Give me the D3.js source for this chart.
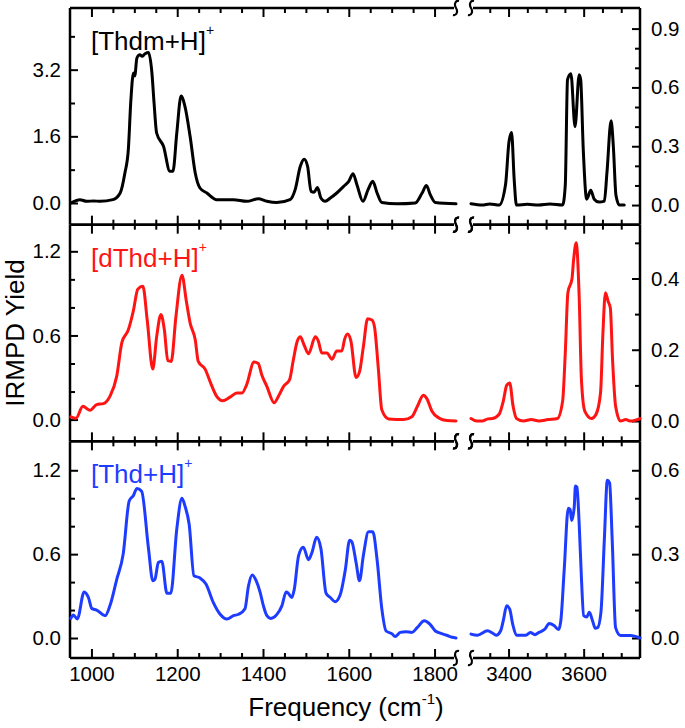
<!DOCTYPE html>
<html><head><meta charset="utf-8">
<script src="https://cdn.jsdelivr.net/npm/d3@7/dist/d3.min.js"></script>
<style>
body{margin:0;background:#fff}
text{font-family:"Liberation Sans",Arial,Helvetica,sans-serif;fill:#000}
</style>
</head><body>
<svg id="chart" width="685" height="728"></svg>
<script>
// ---------- data ----------
const xLowDomain = [950, 1850];
const xHighDomain = [3300, 3750];
const xLowMajor = [1000, 1200, 1400, 1600, 1800];
const xLowMinor = [1050, 1100, 1150, 1250, 1300, 1350, 1450, 1500, 1550, 1650, 1700, 1750];
const xHighMajor = [3400, 3600];
const xHighMinor = [3350, 3450, 3500, 3550, 3650, 3700];

const panelLabels = ["[Thdm+H]", "[dThd+H]", "[Thd+H]"];
const panelColors = ["#000000", "#ff1414", "#1e3cff"];

const leftDomains  = [[-0.52, 4.68], [-0.155, 1.39], [-0.143, 1.407]];
const rightDomains = [[-0.1, 1.005], [-0.057, 0.551], [-0.0715, 0.7035]];
const leftMajor  = [[0, 1.6, 3.2], [0, 0.6, 1.2], [0, 0.6, 1.2]];
const leftMinor  = [[0.8, 2.4, 4.0], [0.2, 0.4, 0.8, 1.0], [0.2, 0.4, 0.8, 1.0]];
const rightMajor = [[0, 0.3, 0.6, 0.9], [0, 0.2, 0.4], [0, 0.3, 0.6]];
const rightMinor = [[0.1, 0.2, 0.4, 0.5, 0.7, 0.8], [0.1, 0.3, 0.5], [0.1, 0.2, 0.4, 0.5]];

const thdmLow = [[954,0.01],[973,0.08],[989,0.04],[1005,0.05],[1020,0.04],[1050,0.08],[1067,0.24],[1078,0.72],[1086,1.28],[1092,2.48],[1098,3.12],[1101,3.05],[1106,3.48],[1113,3.56],[1118,3.52],[1125,3.58],[1133,3.61],[1141,3.12],[1146,2.40],[1152,1.68],[1168,1.36],[1183,0.76],[1190,0.76],[1199,1.68],[1209,2.57],[1218,2.32],[1230,1.6],[1242,0.72],[1253,0.36],[1269,0.24],[1292,0.08],[1331,0.08],[1362,0.04],[1389,0.1],[1409,0.04],[1432,0.01],[1463,0.08],[1475,0.32],[1487,0.88],[1496,1.05],[1504,0.88],[1512,0.28],[1519,0.26],[1527,0.37],[1535,0.12],[1545,0.04],[1557,0.12],[1572,0.24],[1588,0.4],[1600,0.52],[1610,0.70],[1619,0.44],[1633,0.04],[1645,0.32],[1656,0.52],[1666,0.24],[1677,0.01],[1712,-0.02],[1755,0.0],[1771,0.24],[1781,0.42],[1790,0.2],[1802,0.01],[1850,-0.02]];
const thdmHigh = [[3300,0.007],[3330,0.0],[3350,0.006],[3375,0.0],[3392,0.105],[3401,0.32],[3408,0.37],[3415,0.13],[3421,0.0],[3450,0.004],[3480,0.0],[3510,0.005],[3544,0.0],[3551,0.1],[3557,0.64],[3566,0.67],[3577,0.40],[3588,0.665],[3592,0.64],[3599,0.28],[3608,0.03],[3619,0.075],[3628,0.03],[3641,0.015],[3655,0.02],[3662,0.165],[3673,0.43],[3679,0.3],[3686,0.05],[3695,0.0],[3708,0.0]];

const dthdLow = [[952,0.02],[964,0.01],[980,0.095],[997,0.066],[1012,0.107],[1028,0.114],[1043,0.166],[1059,0.31],[1071,0.55],[1086,0.64],[1098,0.78],[1108,0.93],[1120,0.95],[1130,0.71],[1143,0.36],[1152,0.59],[1162,0.75],[1170,0.64],[1178,0.42],[1186,0.415],[1197,0.735],[1211,1.03],[1221,0.85],[1230,0.69],[1242,0.57],[1249,0.415],[1265,0.36],[1278,0.26],[1292,0.166],[1306,0.135],[1323,0.16],[1339,0.19],[1351,0.19],[1362,0.25],[1379,0.41],[1389,0.40],[1397,0.32],[1409,0.237],[1426,0.12],[1436,0.166],[1448,0.237],[1462,0.285],[1471,0.43],[1479,0.55],[1487,0.59],[1496,0.53],[1506,0.47],[1522,0.59],[1529,0.56],[1537,0.475],[1549,0.475],[1561,0.43],[1572,0.49],[1584,0.49],[1590,0.57],[1597,0.61],[1605,0.56],[1617,0.30],[1625,0.34],[1634,0.52],[1644,0.72],[1654,0.71],[1660,0.66],[1669,0.36],[1677,0.07],[1693,0.005],[1728,0.0],[1747,0.02],[1760,0.095],[1774,0.173],[1782,0.15],[1794,0.06],[1810,0.012],[1829,-0.007],[1850,-0.01]];
const dthdHigh = [[3300,0.007],[3315,0.0],[3330,0.0],[3345,0.006],[3357,0.007],[3375,0.019],[3386,0.056],[3395,0.1],[3403,0.107],[3412,0.042],[3421,0.007],[3440,0.0],[3460,0.004],[3481,0.0],[3505,0.004],[3530,0.007],[3544,0.056],[3551,0.19],[3558,0.36],[3569,0.40],[3573,0.45],[3580,0.50],[3588,0.35],[3594,0.117],[3603,0.028],[3621,0.007],[3633,0.019],[3645,0.08],[3651,0.24],[3658,0.36],[3665,0.336],[3671,0.317],[3677,0.17],[3685,0.042],[3698,0.0],[3712,0.004],[3725,0.0],[3750,0.007]];

const thdLow = [[952,0.14],[958,0.164],[967,0.136],[983,0.33],[993,0.29],[1001,0.21],[1012,0.2],[1032,0.16],[1043,0.23],[1059,0.42],[1074,0.60],[1088,0.98],[1098,1.02],[1106,1.07],[1117,1.05],[1133,0.64],[1143,0.41],[1148,0.42],[1156,0.54],[1164,0.55],[1176,0.32],[1185,0.32],[1199,0.78],[1211,1.0],[1218,0.945],[1228,0.81],[1239,0.445],[1253,0.43],[1267,0.386],[1284,0.255],[1300,0.17],[1316,0.136],[1331,0.16],[1343,0.17],[1358,0.21],[1366,0.37],[1375,0.45],[1384,0.41],[1393,0.33],[1401,0.23],[1409,0.16],[1418,0.14],[1432,0.167],[1444,0.23],[1454,0.33],[1459,0.32],[1467,0.29],[1473,0.35],[1483,0.59],[1494,0.65],[1506,0.56],[1514,0.61],[1525,0.72],[1535,0.64],[1547,0.32],[1557,0.29],[1568,0.26],[1580,0.31],[1592,0.49],[1602,0.70],[1607,0.69],[1617,0.54],[1625,0.41],[1634,0.59],[1646,0.76],[1656,0.76],[1666,0.56],[1677,0.21],[1687,0.05],[1701,0.03],[1708,0.01],[1720,0.04],[1733,0.045],[1747,0.04],[1760,0.076],[1776,0.124],[1789,0.1],[1802,0.05],[1813,0.035],[1828,0.02],[1841,0.005],[1850,0.0]];
const thdHigh = [[3300,0.014],[3317,0.01],[3344,0.026],[3357,0.018],[3367,0.01],[3379,0.026],[3386,0.062],[3395,0.115],[3403,0.103],[3411,0.05],[3421,0.01],[3446,0.01],[3458,0.02],[3470,0.012],[3481,0.02],[3497,0.032],[3508,0.052],[3521,0.045],[3533,0.03],[3539,0.06],[3548,0.24],[3559,0.464],[3564,0.46],[3568,0.42],[3575,0.47],[3578,0.544],[3582,0.54],[3588,0.41],[3594,0.216],[3600,0.08],[3608,0.075],[3615,0.092],[3624,0.06],[3631,0.035],[3637,0.037],[3646,0.092],[3655,0.35],[3663,0.564],[3669,0.555],[3676,0.35],[3685,0.037],[3698,0.009],[3725,0.009],[3750,0.0]];

const lowSeries = [thdmLow, dthdLow, thdLow];
const highSeries = [thdmHigh, dthdHigh, thdHigh];

// ---------- layout ----------
const plotLeft = 70, plotRight = 640, plotTop = 8, plotBottom = 658;
const lowEnd = 456, highStart = 471;
const panelH = (plotBottom - plotTop) / 3;
const majorLen = 9, minorLen = 5;
const tickFont = "20.5px", titleFont = "26px";

const svg = d3.select("#chart");
const xLow = d3.scaleLinear().domain(xLowDomain).range([plotLeft, lowEnd]);
const xHigh = d3.scaleLinear().domain(xHighDomain).range([highStart, plotRight]);
const fmt = d3.format(".1f");

function breakMark(g, x, y) {
  const p = d3.path();
  p.moveTo(x + 3, y - 7);
  p.bezierCurveTo(x - 1, y - 8, x - 2, y - 3, x, y);
  p.bezierCurveTo(x + 2, y + 3, x + 1, y + 8, x - 3, y + 7);
  g.append("path").attr("d", p.toString()).attr("fill", "none")
    .attr("stroke", "#000").attr("stroke-width", 2.2);
}

function styleAxis(sel) {
  sel.select(".domain").remove();
  sel.selectAll(".tick line").attr("stroke", "#000").attr("stroke-width", 2);
  sel.selectAll(".tick text").style("font-size", tickFont).attr("fill", "#000");
}

for (let i = 0; i < 3; i++) {
  const top = plotTop + i * panelH, bot = top + panelH;
  const yL = d3.scaleLinear().domain(leftDomains[i]).range([bot, top]);
  const yR = d3.scaleLinear().domain(rightDomains[i]).range([bot, top]);
  const g = svg.append("g");

  [[xLow, xLowMajor, xLowMinor], [xHigh, xHighMajor, xHighMinor]].forEach(([xs, maj, mnr]) => {
    g.append("g").attr("transform", `translate(0,${top})`)
      .call(d3.axisTop(xs).tickValues(maj).tickSize(-majorLen).tickFormat("")).call(styleAxis);
    g.append("g").attr("transform", `translate(0,${top})`)
      .call(d3.axisTop(xs).tickValues(mnr).tickSize(-minorLen).tickFormat("")).call(styleAxis);
    g.append("g").attr("transform", `translate(0,${bot})`)
      .call(d3.axisBottom(xs).tickValues(maj).tickSize(-majorLen).tickPadding(8)
        .tickFormat(i === 2 ? d3.format("d") : "")).call(styleAxis);
    g.append("g").attr("transform", `translate(0,${bot})`)
      .call(d3.axisBottom(xs).tickValues(mnr).tickSize(-minorLen).tickFormat("")).call(styleAxis);
  });

  g.append("g").attr("transform", `translate(${plotLeft},0)`)
    .call(d3.axisLeft(yL).tickValues(leftMajor[i]).tickSize(-majorLen + 1).tickPadding(9).tickFormat(fmt)).call(styleAxis);
  g.append("g").attr("transform", `translate(${plotLeft},0)`)
    .call(d3.axisLeft(yL).tickValues(leftMinor[i]).tickSize(-minorLen).tickFormat("")).call(styleAxis);
  g.append("g").attr("transform", `translate(${plotRight},0)`)
    .call(d3.axisRight(yR).tickValues(rightMajor[i]).tickSize(-majorLen + 1).tickPadding(11).tickFormat(fmt)).call(styleAxis);
  g.append("g").attr("transform", `translate(${plotRight},0)`)
    .call(d3.axisRight(yR).tickValues(rightMinor[i]).tickSize(-minorLen).tickFormat("")).call(styleAxis);

  const fr = g.append("g").attr("stroke", "#000").attr("stroke-width", 2.5).attr("fill", "none");
  fr.append("line").attr("x1", plotLeft).attr("x2", plotLeft).attr("y1", top).attr("y2", bot);
  fr.append("line").attr("x1", plotRight).attr("x2", plotRight).attr("y1", top).attr("y2", bot);
  [top, bot].forEach(y => {
    fr.append("line").attr("x1", plotLeft).attr("x2", lowEnd - 2).attr("y1", y).attr("y2", y);
    fr.append("line").attr("x1", highStart + 2).attr("x2", plotRight).attr("y1", y).attr("y2", y);
    breakMark(g, lowEnd, y);
    breakMark(g, highStart, y);
  });

  const lineL = d3.line().curve(d3.curveMonotoneX).x(d => xLow(d[0])).y(d => yL(d[1]));
  const lineR = d3.line().curve(d3.curveMonotoneX).x(d => xHigh(d[0])).y(d => yR(d[1]));
  g.append("path").datum(lowSeries[i]).attr("d", lineL)
    .attr("fill", "none").attr("stroke", panelColors[i]).attr("stroke-width", 3)
    .attr("stroke-linejoin", "round").attr("stroke-linecap", "round");
  g.append("path").datum(highSeries[i]).attr("d", lineR)
    .attr("fill", "none").attr("stroke", panelColors[i]).attr("stroke-width", 3)
    .attr("stroke-linejoin", "round").attr("stroke-linecap", "round");

  const t = g.append("text").attr("x", 91).attr("y", top + 42)
    .style("font-size", titleFont).style("fill", panelColors[i]);
  t.append("tspan").text(panelLabels[i]);
  t.append("tspan").attr("dy", -15).style("font-size", "14px").text("+");
}

const xt = svg.append("text").attr("x", 346).attr("y", 716).attr("text-anchor", "middle")
  .style("font-size", titleFont);
xt.append("tspan").text("Frequency (cm");
xt.append("tspan").attr("dy", -12).style("font-size", "15px").text("-1");
xt.append("tspan").attr("dy", 12).text(")");

svg.append("text").attr("transform", "translate(24,333) rotate(-90)")
  .attr("text-anchor", "middle").style("font-size", titleFont).text("IRMPD Yield");
</script>
</body></html>
